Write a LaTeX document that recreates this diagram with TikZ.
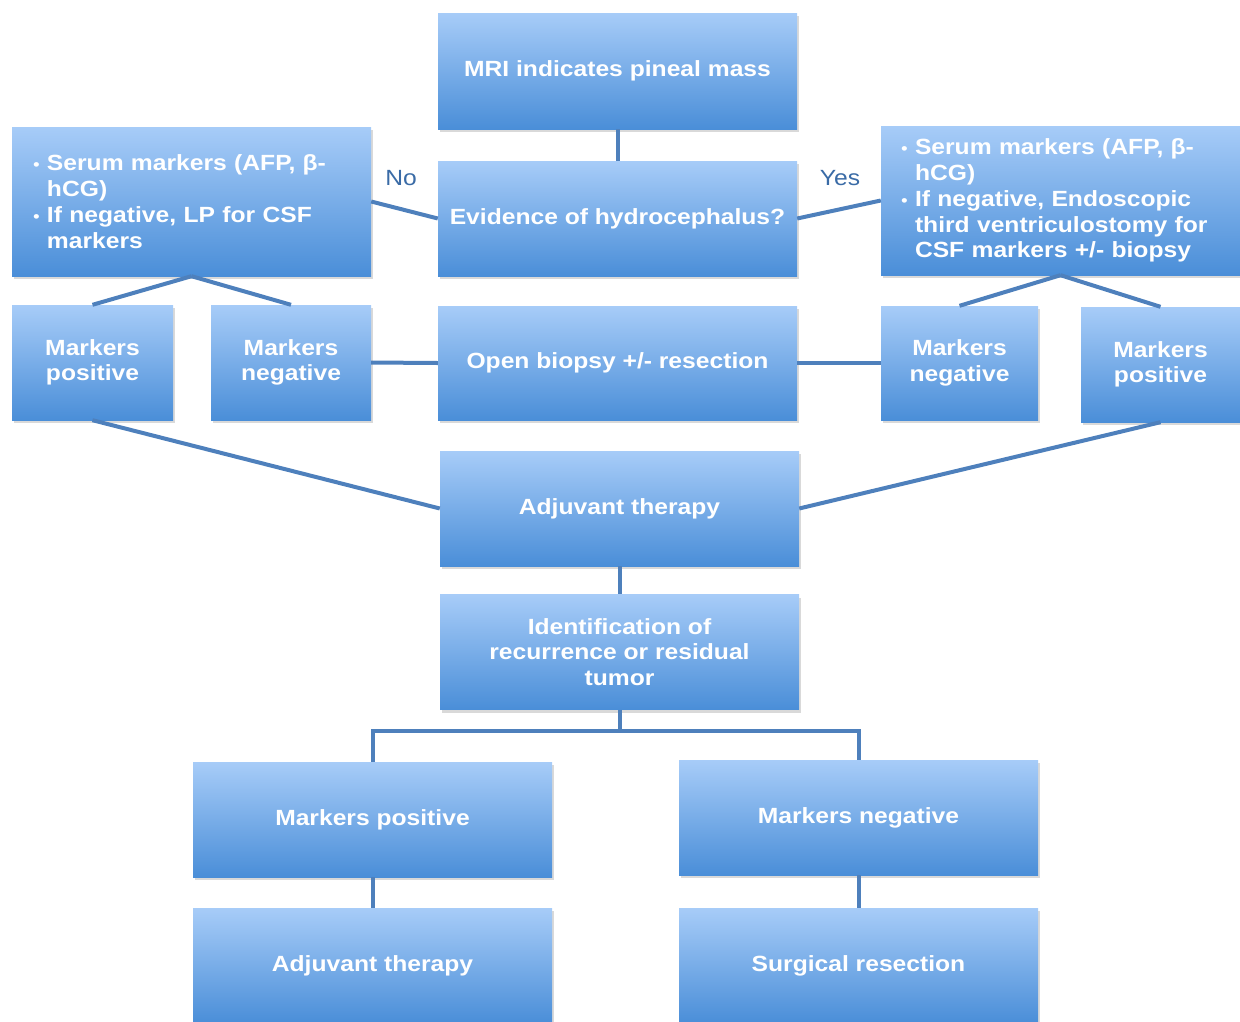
\documentclass[tikz,border=0pt]{standalone}
\usepackage{fontspec}
\setmainfont[FakeStretch=1.12]{Liberation Sans}
\usetikzlibrary{shadows}
\definecolor{boxtop}{HTML}{A7CCF8}
\definecolor{boxbot}{HTML}{4A8ED8}
\definecolor{linec}{HTML}{4E80BC}
\definecolor{labc}{HTML}{3A6BA6}
\newcommand\mybul{\makebox[14pt][l]{\raisebox{0.5pt}{\fontsize{17}{17}\selectfont\mdseries •}}}
\newcommand\myind{\hspace*{14pt}}
\begin{document}
\begin{tikzpicture}[x=1pt,y=-1pt,
 box/.style={rectangle, inner sep=0pt, top color=boxtop, bottom color=boxbot,
   drop shadow={shadow xshift=1.5pt, shadow yshift=-3pt, opacity=0.3},
   text=white, font=\fontsize{22}{25.5}\selectfont\bfseries, align=center,
   minimum width=359pt, minimum height=115pt},
 conn/.style={draw=linec, line width=4pt},
 lab/.style={text=labc, font=\fontsize{22}{26}\selectfont}]
\useasboundingbox (0,0) rectangle (1240,1021);

\node[box, minimum height=116pt] (mri) at (617.5,71) {MRI indicates pineal mass};
\node[box] (evid) at (617.5,218.5) {Evidence of hydrocephalus?};
\node[box, minimum height=149pt, text width=317pt, align=left] (lser) at (191.5,201.5)
  {\mybul Serum markers (AFP, β-\\\myind hCG)\\[1pt]\mybul If negative, LP for CSF\\\myind markers};
\node[box, minimum height=149pt, text width=319pt, align=left] (rser) at (1060.5,200.5)
  {\mybul Serum markers (AFP, β-\\\myind hCG)\\[1pt]\mybul If negative, Endoscopic\\\myind third ventriculostomy for\\\myind CSF markers +/- biopsy};
\node[box, minimum width=161pt] (mpl) at (92.5,362.5) {Markers\\positive};
\node[box, minimum width=160pt] (mnl) at (291,362.5) {Markers\\negative};
\node[box, minimum height=114pt] (open) at (617.5,363) {Open biopsy +/- resection};
\node[box, minimum width=157pt, minimum height=114pt] (mnr) at (959.5,363) {Markers\\negative};
\node[box, minimum width=159pt] (mpr) at (1160.5,364.5) {Markers\\positive};
\node[box] (adj) at (619.5,508.5) {Adjuvant therapy};
\node[box] (ident) at (619.5,652) {Identification of\\recurrence or residual\\tumor};
\node[box] (mpb) at (372.5,819.5) {Markers positive};
\node[box] (mnb) at (858.5,817.5) {Markers negative};
\node[box] (adjb) at (372.5,965.5) {Adjuvant therapy};
\node[box] (surg) at (858.5,965.5) {Surgical resection};

\node[lab] (no) at (401,178) {No};
\node[lab] (yes) at (840,178) {Yes};

\draw[conn] (mri.south) -- (evid.north);
\draw[conn] (lser.east) -- (evid.west);
\draw[conn] (evid.east) -- (rser.west);
\draw[conn] (lser.south) -- (mpl.north);
\draw[conn] (lser.south) -- (mnl.north);
\draw[conn] (rser.south) -- (mnr.north);
\draw[conn] (rser.south) -- (mpr.north);
\draw[conn] (mnl.east) -- (open.west);
\draw[conn] (open.east) -- (mnr.west);
\draw[conn] (mpl.south) -- (adj.west);
\draw[conn] (mpr.south) -- (adj.east);
\draw[conn] (adj.south) -- (ident.north);
\coordinate (jn) at (619.5,731);
\draw[conn] (ident.south) -- (jn) -| (mpb.north);
\draw[conn] (jn) -| (mnb.north);
\draw[conn] (mpb.south) -- (adjb.north);
\draw[conn] (mnb.south) -- (surg.north);
\end{tikzpicture}
\end{document}
